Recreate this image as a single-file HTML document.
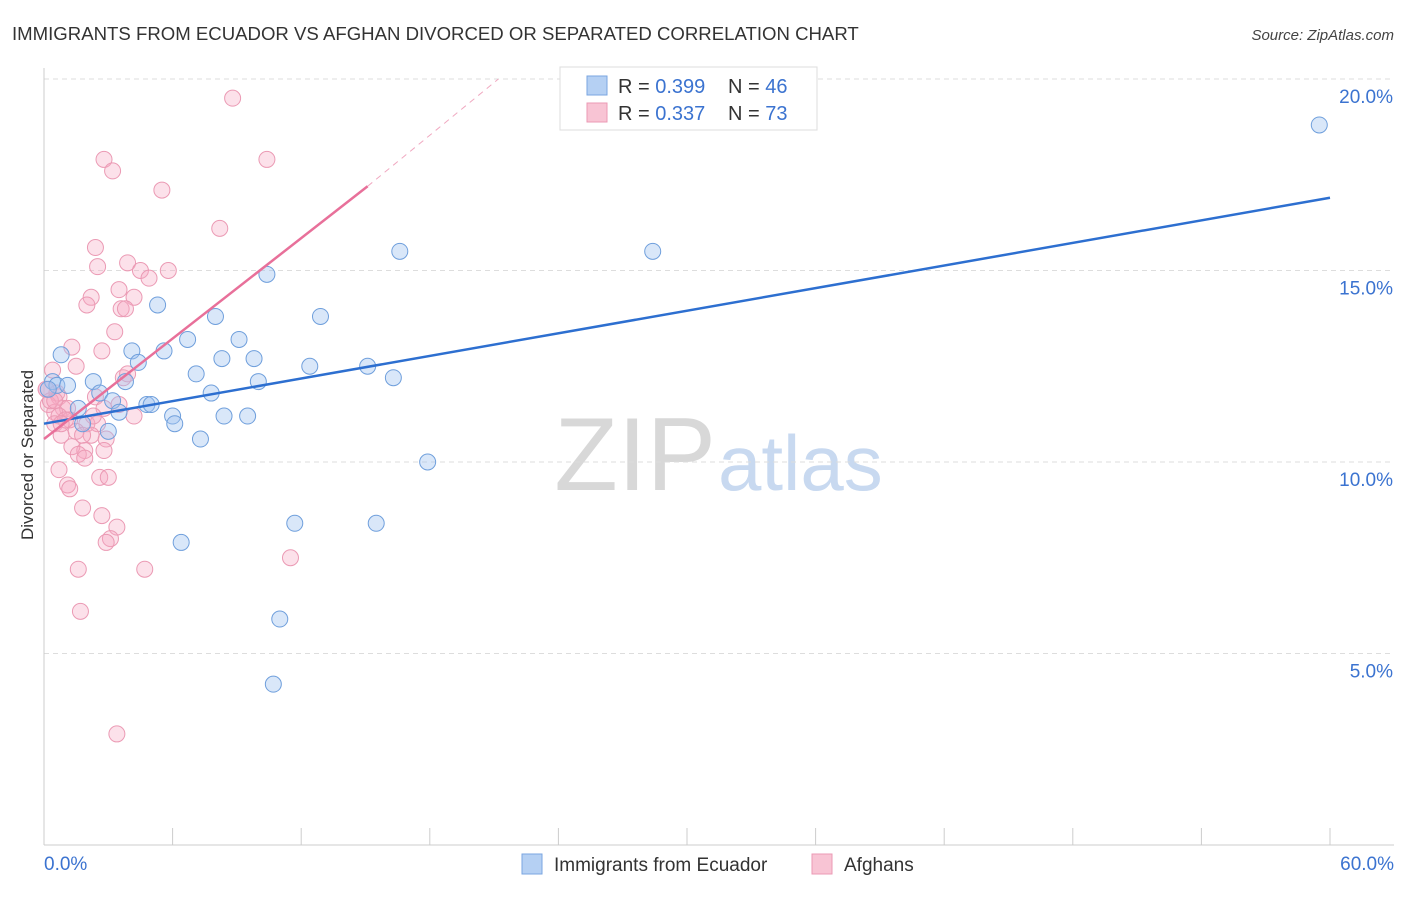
<!DOCTYPE html>
<html><head><meta charset="utf-8"><style>
body{margin:0;background:#fff;font-family:"Liberation Sans",sans-serif;}
svg text{font-family:"Liberation Sans",sans-serif;}
</style></head><body>
<svg id="chart" width="1406" height="892" xmlns="http://www.w3.org/2000/svg">
<text x="12" y="40" font-size="18.6" fill="#333">IMMIGRANTS FROM ECUADOR VS AFGHAN DIVORCED OR SEPARATED CORRELATION CHART</text>
<text x="1394" y="40" font-size="15" fill="#444" text-anchor="end" font-style="italic">Source: ZipAtlas.com</text>
<text transform="translate(33,455) rotate(-90)" font-size="17" fill="#333" text-anchor="middle">Divorced or Separated</text>
<text x="716" y="490" font-size="104" fill="#d8d8d8" text-anchor="end" font-family="Liberation Serif">ZIP</text>
<text x="718" y="490" font-size="78" fill="#c8d9f0">atlas</text>
<g id="grid"></g><g id="pts"></g><g id="lines"></g>
<g>
<rect x="560" y="67" width="257" height="63" fill="#fff" stroke="#ddd"/>
<rect x="587" y="76" width="20" height="19" fill="#b5d0f3" stroke="#7aa6e0"/>
<rect x="587" y="103" width="20" height="19" fill="#f8c4d4" stroke="#eb9ab4"/>
<text x="618" y="93" font-size="20" fill="#333">R = <tspan fill="#3b73d0">0.399</tspan></text>
<text x="728" y="93" font-size="20" fill="#333">N = <tspan fill="#3b73d0">46</tspan></text>
<text x="618" y="120" font-size="20" fill="#333">R = <tspan fill="#3b73d0">0.337</tspan></text>
<text x="728" y="120" font-size="20" fill="#333">N = <tspan fill="#3b73d0">73</tspan></text>
</g>
<g>
<rect x="522" y="854" width="20" height="20" fill="#b5d0f3" stroke="#7aa6e0"/>
<text x="554" y="871" font-size="19" fill="#333">Immigrants from Ecuador</text>
<rect x="812" y="854" width="20" height="20" fill="#f8c4d4" stroke="#eb9ab4"/>
<text x="844" y="871" font-size="19" fill="#333">Afghans</text>
</g>
</svg>
<script>
const yTicks=[5,10,15,20];
const xTickLabels=["0.0%","60.0%"];
const blueX=[59.5,28.4,16.6,10.4,5.3,12.9,8.0,6.7,9.1,4.1,5.6,0.8,4.4,8.3,9.8,12.4,15.1,7.1,16.3,10.0,3.8,0.4,0.6,1.1,2.3,2.6,7.8,3.2,4.8,5.0,6.0,8.4,9.5,3.5,1.6,1.8,6.1,3.0,7.3,17.9,11.7,15.5,6.4,11.0,10.7,0.2];
const blueY=[18.8,15.5,15.5,14.9,14.1,13.8,13.8,13.2,13.2,12.9,12.9,12.8,12.6,12.7,12.7,12.5,12.5,12.3,12.2,12.1,12.1,12.1,12.0,12.0,12.1,11.8,11.8,11.6,11.5,11.5,11.2,11.2,11.2,11.3,11.4,11.0,11.0,10.8,10.6,10.0,8.4,8.4,7.9,5.9,4.2,11.9];
const pinkX=[8.8,2.8,10.4,3.2,5.5,8.2,2.4,2.5,3.9,4.5,5.8,4.9,2.2,4.2,3.5,2.0,3.6,3.8,3.3,1.3,2.7,1.5,0.4,3.7,3.9,0.1,0.6,0.7,2.4,0.2,0.9,1.1,2.8,0.5,0.7,1.2,2.0,2.5,4.2,0.5,1.5,2.2,0.8,1.8,2.9,1.9,2.8,1.3,1.6,1.9,0.7,2.6,3.0,1.1,1.2,1.8,2.7,3.4,3.1,2.9,4.7,11.5,1.6,1.7,3.4,0.3,1.0,2.3,0.5,0.1,3.5,0.8];
const pinkY=[19.5,17.9,17.9,17.6,17.1,16.1,15.6,15.1,15.2,15.0,15.0,14.8,14.3,14.3,14.5,14.1,14.0,14.0,13.4,13.0,12.9,12.5,12.4,12.2,12.3,11.9,11.8,11.7,11.7,11.5,11.4,11.4,11.4,11.3,11.2,11.1,11.0,11.0,11.2,11.0,10.8,10.7,10.7,10.7,10.6,10.3,10.3,10.4,10.2,10.1,9.8,9.6,9.6,9.4,9.3,8.8,8.6,8.3,8.0,7.9,7.2,7.5,7.2,6.1,2.9,11.6,11.1,11.2,11.6,11.9,11.5,11.0];
const blueLine=[[0,11.0],[60,16.9]];
const pinkLine=[[0,10.6],[15.1,17.2]];
const pinkDash=[[15.1,17.2],[21.2,20.0]];
const X0=44,X1=1330,Y0=845,PX=38.3;
const sx=v=>X0+(v/60)*(X1-X0), sy=v=>Y0-v*PX;
const NS="http://www.w3.org/2000/svg";
function mk(tag,attrs,parent){const e=document.createElementNS(NS,tag);for(const k in attrs)e.setAttribute(k,attrs[k]);parent.appendChild(e);return e;}
const grid=document.getElementById('grid');
yTicks.forEach(t=>{
 const l=mk('line',{x1:X0,x2:1394,y1:sy(t),y2:sy(t),stroke:'#ddd','stroke-dasharray':'5,4'},grid);
 
 
 const tx=mk('text',{x:1393,y:sy(t)+24,'font-size':19,fill:'#3b73d0','text-anchor':'end'},grid);
 tx.textContent=t.toFixed(1)+'%';
 
 
});
const ax=mk('line',{x1:X0,x2:X0,y1:68,y2:Y0,stroke:'#ccc'},grid);


const bx=mk('line',{x1:X0,x2:1394,y1:Y0,y2:Y0,stroke:'#ccc'},grid);


for(let i=0;i<=10;i++){const x=sx(i*6);const t=mk('line',{x1:x,x2:x,y1:828,y2:Y0,stroke:'#ccc'},grid);
 
 }
const xl0=mk('text',{x:44,y:870,'font-size':19,fill:'#3b73d0'},grid);xl0.textContent=xTickLabels[0];


const xl1=mk('text',{x:1394,y:870,'font-size':19,fill:'#3b73d0','text-anchor':'end'},grid);xl1.textContent=xTickLabels[1];


const pts=document.getElementById('pts');
pinkX.forEach((v,i)=>{const c=mk('circle',{cx:sx(v),cy:sy(pinkY[i]),r:8,fill:'rgba(245,170,195,0.35)',stroke:'#eb9ab4','stroke-width':1},pts);
 
 });
blueX.forEach((v,i)=>{const c=mk('circle',{cx:sx(v),cy:sy(blueY[i]),r:8,fill:'rgba(160,195,240,0.4)',stroke:'#6f9fdc','stroke-width':1},pts);
 
 });
const lines=document.getElementById('lines');
const b=mk('line',{x1:sx(blueLine[0][0]),y1:sy(blueLine[0][1]),x2:sx(blueLine[1][0]),y2:sy(blueLine[1][1]),stroke:'#2d6fd0','stroke-width':2.5},lines);


const p=mk('line',{x1:sx(pinkLine[0][0]),y1:sy(pinkLine[0][1]),x2:sx(pinkLine[1][0]),y2:sy(pinkLine[1][1]),stroke:'#e8709a','stroke-width':2.5},lines);


const pd=mk('line',{x1:sx(pinkDash[0][0]),y1:sy(pinkDash[0][1]),x2:sx(pinkDash[1][0]),y2:sy(pinkDash[1][1]),stroke:'#f0a8c0','stroke-width':1,'stroke-dasharray':'6,5'},lines);


</script>
</body></html>
